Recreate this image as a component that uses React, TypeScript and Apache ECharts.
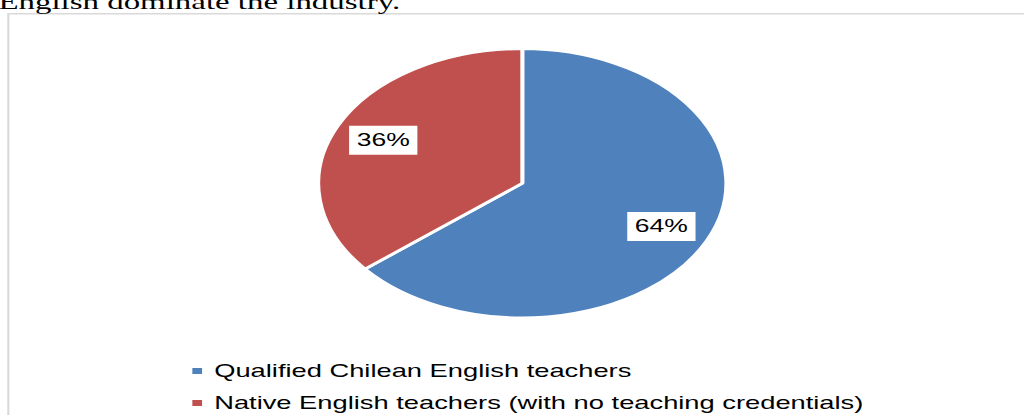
import React, { useEffect, useRef } from "react";
import * as echarts from "echarts";

const categories = [
  "Qualified Chilean English teachers",
  "Native English teachers (with no teaching credentials)",
];
const values = [64, 36];
const colors = ["#4F81BD", "#C0504D"];
const headingText = "English dominate the industry.";

const STRETCH = 1.517;
const W = 1024 / STRETCH;
const CX = 344.3;
const CY = 183.3;
const R = 134.5;

export default function App() {
  const ref = useRef<HTMLDivElement>(null);
  useEffect(() => {
    if (!ref.current) return;
    const chart = echarts.init(ref.current, null, { renderer: "svg" });
    const k = 97 / (R / 2) - 1;
    chart.setOption({
      animation: false,
      backgroundColor: "#ffffff",
      graphic: [
        {
          type: "polyline",
          silent: true,
          shape: { points: [[5.5, 415], [5.5, 13.7], [W + 10, 13.7]] },
          style: { stroke: "#d9d9d9", lineWidth: 1.4, fill: "none" },
        },
        {
          type: "text",
          x: -1,
          y: 1.5,
          silent: true,
          style: {
            text: headingText,
            font: "21.7px 'Liberation Serif'",
            fill: "#000",
            verticalAlign: "middle",
            align: "left",
          },
        },
      ],
      legend: {
        orient: "vertical",
        left: 124.8,
        top: 361,
        padding: 0,
        icon: "rect",
        itemWidth: 8.4,
        itemHeight: 8,
        itemGap: 12,
        selectedMode: false,
        data: categories,
        textStyle: {
          fontFamily: "Liberation Sans",
          fontSize: 18,
          color: "#000",
          lineHeight: 20,
          padding: [0, 0, 0, 2],
        },
      },
      series: [
        {
          type: "pie",
          center: [CX, CY],
          radius: [0, R],
          startAngle: 90,
          clockwise: true,
          silent: true,
          itemStyle: { borderColor: "#ffffff", borderWidth: 2.6 },
          label: {
            show: true,
            position: "inside",
            formatter: "{d}%",
            fontFamily: "Liberation Sans",
            fontSize: 17.5,
            lineHeight: 19,
            color: "#000",
            backgroundColor: "#ffffff",
            padding: [5, 5],
          },
          labelLine: { show: false },
          labelLayout: (params: any) => {
            const r = params.labelRect;
            const lx = r.x + r.width / 2;
            const ly = r.y + r.height / 2;
            return { dx: (lx - CX) * k, dy: (ly - CY) * k };
          },
          data: categories.map((name, i) => ({
            name,
            value: values[i],
            itemStyle: { color: colors[i] },
          })),
        },
      ],
    });
    return () => chart.dispose();
  }, []);
  return (
    <div
      style={{
        position: "fixed",
        left: 0,
        top: 0,
        width: 1024,
        height: 418,
        overflow: "hidden",
        background: "#fff",
      }}
    >
      <div
        ref={ref}
        style={{
          width: W,
          height: 418,
          transform: `scaleX(${STRETCH})`,
          transformOrigin: "0 0",
        }}
      />
    </div>
  );
}
